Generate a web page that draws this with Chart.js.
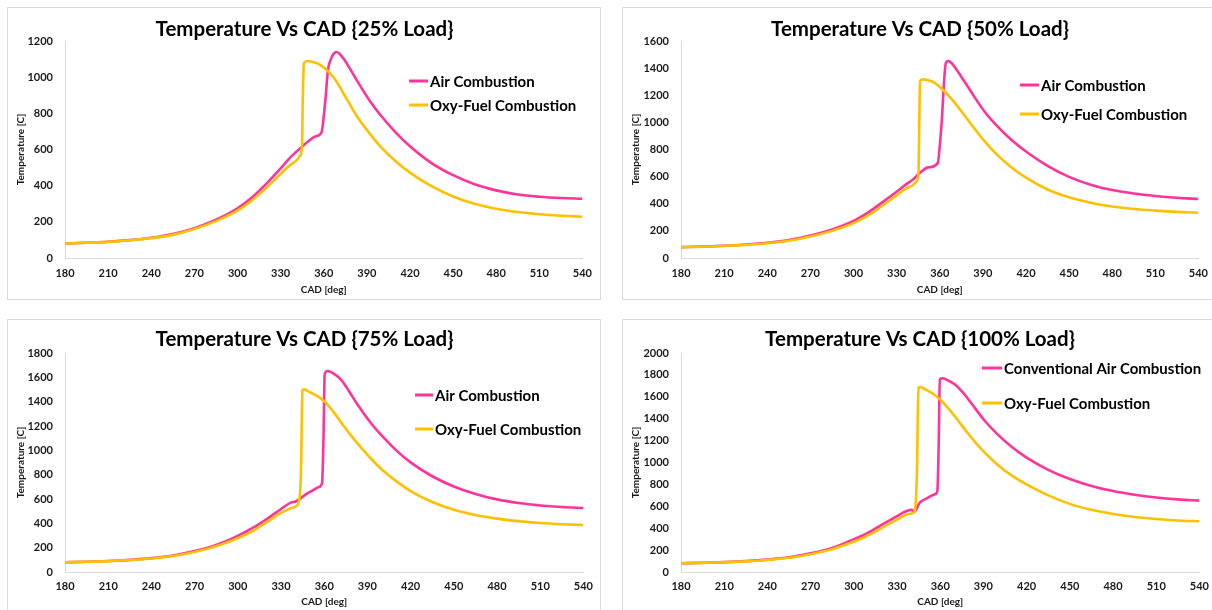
<!DOCTYPE html>
<html>
<head>
<meta charset="utf-8">
<script src="https://cdn.jsdelivr.net/npm/chart.js@4.4.1/dist/chart.umd.min.js"></script>
<style>
  html, body { margin: 0; padding: 0; background: #fff; overflow: hidden; width: 1212px; height: 610px; }
  .panel { position: absolute; border: 1px solid #d9d9d9; box-sizing: border-box; background: #fff; }
  .panel canvas { position: absolute; left: 0; top: 0; }
</style>
</head>
<body>
<div class="panel" id="p1" style="left:7px;top:7px;width:594px;height:293px;"><canvas id="c1" width="593" height="292"></canvas></div>
<div class="panel" id="p2" style="left:622px;top:7px;width:596px;height:293px;"><canvas id="c2" width="594" height="292"></canvas></div>
<div class="panel" id="p3" style="left:7px;top:319px;width:594px;height:300px;"><canvas id="c3" width="593" height="292"></canvas></div>
<div class="panel" id="p4" style="left:622px;top:319px;width:596px;height:300px;"><canvas id="c4" width="594" height="292"></canvas></div>
<script>
// ---------------- DATA ----------------
const titles = ['Temperature Vs CAD {25% Load}', 'Temperature Vs CAD {50% Load}', 'Temperature Vs CAD {75% Load}', 'Temperature Vs CAD {100% Load}'];
const airNames = ['Air Combustion', 'Air Combustion', 'Air Combustion', 'Conventional Air Combustion'];
const oxyName = 'Oxy-Fuel Combustion';
const yMaxes = [1200, 1600, 1800, 2000];
const xTickLabels = [180, 210, 240, 270, 300, 330, 360, 390, 420, 450, 480, 510, 540];

// 25% load
const cad25Air  = [180,195,210,225,240,255,270,285,300,310,320,330,336,341,346,350,354,358.4,361,363,365,367,368.8,371,374,378,384,392,400,410,420,435,450,465,480,495,510,525,540];
const temp25Air = [80,84,90,99,112,132,165,212,275,335,410,495,550,588,624,650,672,693,860,1043,1100,1130,1139,1130,1100,1050,970,870,785,695,618,525,458,408,374,351,339,332,328];
const cad25Oxy  = [180,195,210,225,240,255,270,285,300,310,320,330,336,341,343.5,344.8,345.5,346.2,348.6,352,357,364,369,373.4,378,383,392,400,410,420,435,450,465,480,495,510,525,540];
const temp25Oxy = [80,84,89,98,110,128,160,204,262,318,388,465,510,540,565,610,900,1078,1089,1085,1071,1025,975,915,852,785,688,612,535,472,397,340,300,272,254,242,234,228];

// 50% load
const cad50Air  = [180,195,210,225,240,255,270,285,300,310,320,330,337.7,341,344,347,352,358.5,361,364.3,365.9,368,372,377,384,391,400,410,420,435,450,465,480,495,510,525,540];
const temp50Air = [80,84,90,99,112,132,165,210,273,335,410,488,552,575,605,635,668,698,950,1440,1452,1440,1385,1305,1190,1082,972,870,785,680,598,540,501,475,457,444,435];
const cad50Oxy  = [180,195,210,225,240,255,270,285,300,310,320,330,337,341,343.5,345.2,345.8,346.3,348.5,352,356.2,363.1,368,372.4,377,381.6,390.9,400,410,420,435,450,465,480,495,510,525,540];
const temp50Oxy = [80,83,89,97,109,127,158,200,257,312,385,462,515,535,560,620,1000,1305,1317,1310,1293,1231,1175,1118,1055,990,865,760,668,592,505,448,408,380,361,349,340,334];

// 75% load
const cad75Air  = [180,195,210,225,240,255,270,285,297.4,310,320.6,330,336.8,340.2,343,347.2,352,356.4,358.5,359.5,360.3,362.2,366,371.5,377,383,392.2,400,410,420,435,450,465,480,495,510,525,540];
const temp75Air = [80,84,90,100,114,136,172,222,282,360,440,518,570,580,600,638,670,699,730,1100,1625,1652,1635,1584,1490,1378,1227,1120,1000,901,787,703,642,597,567,547,534,526];
const cad75Oxy  = [180,195,210,225,240,255,270,285,297.4,310,320.6,330,336.8,340.9,342.3,343.8,344.9,346,349,353,359.9,366.8,372,378.4,385,392.2,400,410,420,435,450,465,480,495,510,525,540];
const temp75Oxy = [80,83,89,98,111,131,165,212,265,333,414,485,525,545,575,800,1493,1501,1485,1460,1405,1310,1225,1125,1030,935,843,747,665,575,512,469,439,418,403,393,386];

// 100% load
const cad100Air  = [180,195,210,225,240,255,270,285,296,308,319.2,330,335.4,340,342,345.8,351,356.2,358,359,359.7,361.9,366,370,376,381.6,390.9,400,410,420,435,450,465,480,495,510,525,540];
const temp100Air = [80,84,90,99,113,134,170,220,276,345,430,510,550,569,551,633,675,709,740,1200,1760,1769,1745,1714,1635,1541,1381,1254,1139,1044,933,849,786,739,705,680,663,652];
const cad100Oxy  = [180,195,210,225,240,255,270,285,296,308,319.2,330,335.4,340,342.3,343.8,344.9,346.5,350,353.9,359.7,367.8,373,379.3,385,390.9,400,410,420,435,450,465,480,495,510,525,540];
const temp100Oxy = [80,83,89,97,110,130,163,208,258,322,400,478,518,535,557,900,1683,1689,1665,1637,1577,1460,1372,1265,1175,1090,978,878,800,700,622,568,530,503,484,471,463];

// ---------------- STYLE ----------------
const PINK = '#FF3399';
const GOLD = '#FFC000';
const FONT = 'Lato, "Open Sans", sans-serif';

const layouts = [
  { left: 57, right: 16, top: 33, xh: 42, tickPad: 9, titleY: 21, leg: { lx: 401, tx: 421, y1: 73, y2: 97 } },
  { left: 58, right: 17, top: 33, xh: 42, tickPad: 9, titleY: 21, leg: { lx: 397, tx: 417, y1: 77, y2: 106 } },
  { left: 57, right: 17, top: 33, xh: 40, tickPad: 8, titleY: 19, leg: { lx: 407, tx: 426, y1: 75, y2: 109 } },
  { left: 58, right: 17, top: 33, xh: 40, tickPad: 8, titleY: 19, leg: { lx: 359, tx: 380, y1: 48, y2: 83 } }
];

const seriesData = [
  [cad25Air, temp25Air, cad25Oxy, temp25Oxy],
  [cad50Air, temp50Air, cad50Oxy, temp50Oxy],
  [cad75Air, temp75Air, cad75Oxy, temp75Oxy],
  [cad100Air, temp100Air, cad100Oxy, temp100Oxy]
];

function pts(xs, ys) { return xs.map((x, i) => ({ x: x, y: ys[i] })); }

const panelDeco = {
  id: 'panelDeco',
  afterDraw(chart, args, opts) {
    const ctx = chart.ctx;
    ctx.save();
    ctx.fillStyle = '#000';
    ctx.font = 'bold 20.5px ' + FONT;
    ctx.textAlign = 'center';
    ctx.textBaseline = 'middle';
    ctx.fillText(opts.title, chart.width / 2, opts.titleY);
    ctx.font = 'bold 15px ' + FONT;
    ctx.textAlign = 'left';
    const items = [[opts.names[0], PINK, opts.leg.y1], [opts.names[1], GOLD, opts.leg.y2]];
    items.forEach(([txt, col, y]) => {
      ctx.strokeStyle = col;
      ctx.lineWidth = 3;
      ctx.beginPath();
      ctx.moveTo(opts.leg.lx, y);
      ctx.lineTo(opts.leg.tx - 1, y);
      ctx.stroke();
      ctx.fillStyle = '#000';
      ctx.fillText(txt, opts.leg.tx + 1, y + 1);
    });
    ctx.restore();
  }
};

for (let i = 0; i < 4; i++) {
  const L = layouts[i];
  const [ax, ay, ox, oy] = seriesData[i];
  new Chart(document.getElementById('c' + (i + 1)), {
    type: 'line',
    data: {
      datasets: [
        { label: airNames[i], data: pts(ax, ay), borderColor: PINK, backgroundColor: PINK, borderWidth: 2.6, pointRadius: 0, cubicInterpolationMode: 'monotone', order: 2 },
        { label: oxyName, data: pts(ox, oy), borderColor: GOLD, backgroundColor: GOLD, borderWidth: 2.6, pointRadius: 0, cubicInterpolationMode: 'monotone', order: 1 }
      ]
    },
    options: {
      responsive: false,
      animation: false,
      events: [],
      layout: { padding: { left: 0, right: L.right, top: L.top, bottom: 0 } },
      plugins: {
        legend: { display: false },
        tooltip: { enabled: false },
        title: { display: false },
        panelDeco: { title: titles[i], titleY: L.titleY, names: [airNames[i], oxyName], leg: L.leg }
      },
      scales: {
        x: {
          type: 'linear', min: 180, max: 540,
          afterBuildTicks: (s) => { s.ticks = xTickLabels.map(v => ({ value: v })); },
          afterFit: (s) => { s.height = L.xh; },
          grid: { display: false, drawTicks: false },
          border: { display: true, color: '#d9d9d9', width: 1 },
          ticks: { padding: L.tickPad, color: '#1a1a1a', font: { family: FONT, size: 11, weight: 'bold' }, maxRotation: 0, autoSkip: false, callback: (v) => String(v) },
          title: { display: true, text: 'CAD [deg]', color: '#1a1a1a', font: { family: FONT, size: 10, weight: 'bold' }, padding: { top: 0, bottom: 4 } }
        },
        y: {
          type: 'linear', min: 0, max: yMaxes[i],
          afterFit: (s) => { s.width = L.left; },
          grid: { display: false, drawTicks: false },
          border: { display: true, color: '#d9d9d9', width: 1 },
          ticks: { stepSize: 200, padding: 12, color: '#1a1a1a', font: { family: FONT, size: 11, weight: 'bold' }, callback: (v) => String(v) },
          title: { display: true, text: 'Temperature [C]', color: '#1a1a1a', font: { family: FONT, size: 10, weight: 'bold' }, padding: { top: 7, bottom: 0 } }
        }
      }
    },
    plugins: [panelDeco]
  });
}
</script>
</body>
</html>
